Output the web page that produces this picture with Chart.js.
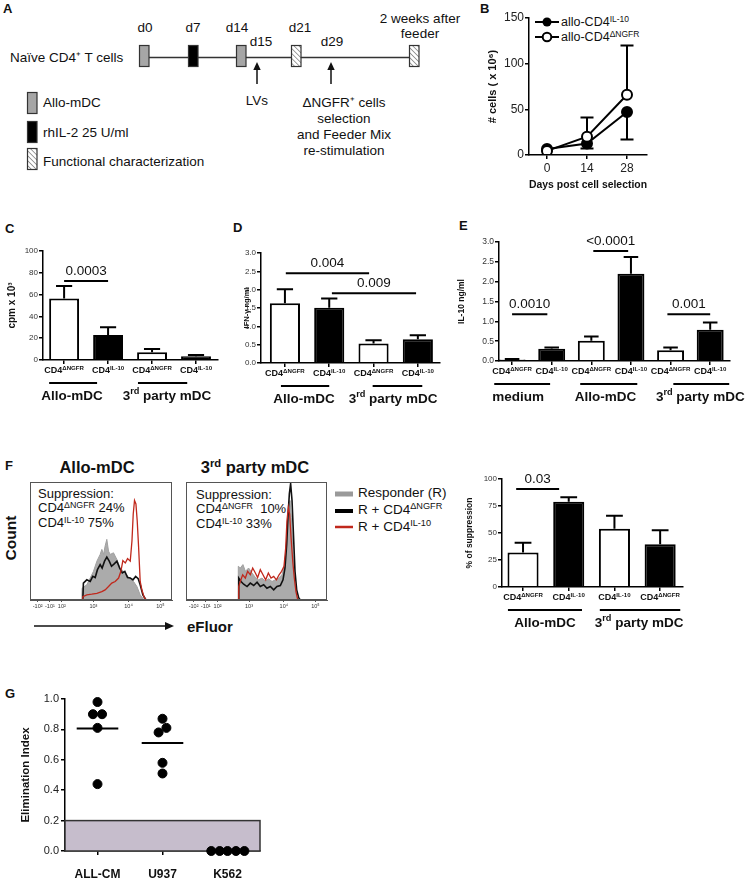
<!DOCTYPE html>
<html lang="en">
  <head>
    <meta charset="UTF-8" />
    <title>CD4 IL-10 figure</title>
    <script src="https://cdn.jsdelivr.net/npm/chart.js"></script>
    <style>
      html, body { margin: 0; padding: 0; background: #fff; }
      #fig { position: relative; width: 749px; height: 881px; overflow: hidden; font-family: "Liberation Sans", Arial, sans-serif; color: #111; }
      #fig canvas, #fig svg, .t { position: absolute; }
      .t { white-space: nowrap; line-height: 1; }
      .c { transform: translate(-50%, -50%); }
      .l { transform: translateY(-50%); }
      .b { font-weight: bold; }
      .letter { font-weight: bold; font-size: 13px; }
      sup { font-size: 0.68em; position: relative; top: -0.5em; vertical-align: baseline; line-height: 0; }
    </style>
  </head>
  <body>
    <div id="fig">
      <!-- Panel A : protocol scheme -->
      <svg width="470" height="180" style="left:0;top:0" font-family="Liberation Sans, Arial, sans-serif" font-size="13.5" fill="#111">
        <defs>
          <pattern id="hatch" width="3.5" height="3.5" patternUnits="userSpaceOnUse" patternTransform="rotate(-45)">
            <rect width="3.5" height="3.5" fill="#fff" />
            <line x1="0" y1="0" x2="0" y2="3.5" stroke="#8a8a8a" stroke-width="1.6" />
          </pattern>
        </defs>
        <line x1="149" y1="57.5" x2="410" y2="57.5" stroke="#333" stroke-width="1.3" />
        <rect x="139.5" y="45.5" width="9.5" height="21" fill="#a6a6a6" stroke="#333" stroke-width="1.2" />
        <rect x="188.5" y="45.5" width="9.5" height="21" fill="#000" stroke="#333" stroke-width="1.2" />
        <rect x="236.5" y="45.5" width="9.5" height="21" fill="#a6a6a6" stroke="#333" stroke-width="1.2" />
        <rect x="291.5" y="45.5" width="9.5" height="21" fill="url(#hatch)" stroke="#333" stroke-width="1.2" />
        <rect x="409.5" y="45.5" width="9.5" height="21" fill="url(#hatch)" stroke="#333" stroke-width="1.2" />
        <text x="10" y="62">Naïve CD4⁺ T cells</text>
        <g text-anchor="middle">
          <text x="145" y="32">d0</text>
          <text x="193" y="32">d7</text>
          <text x="237" y="32">d14</text>
          <text x="261" y="46">d15</text>
          <text x="300" y="32">d21</text>
          <text x="332" y="46">d29</text>
          <text x="420" y="23">2 weeks after</text>
          <text x="420" y="38">feeder</text>
          <text x="257" y="105">LVs</text>
          <text x="344" y="107">ΔNGFR⁺ cells</text>
          <text x="344" y="123">selection</text>
          <text x="344" y="139">and Feeder Mix</text>
          <text x="344" y="155">re-stimulation</text>
        </g>
        <line x1="257" y1="84" x2="257" y2="68" stroke="#111" stroke-width="1.5" />
        <polygon points="257,62 253.3,70 260.7,70" fill="#111" />
        <line x1="331" y1="84" x2="331" y2="68" stroke="#111" stroke-width="1.5" />
        <polygon points="331,62 327.3,70 334.7,70" fill="#111" />
        <rect x="27.5" y="92.5" width="9.5" height="21" fill="#a6a6a6" stroke="#333" stroke-width="1.2" />
        <rect x="27.5" y="121.5" width="9.5" height="21" fill="#000" stroke="#333" stroke-width="1.2" />
        <rect x="27.5" y="148.5" width="9.5" height="21" fill="url(#hatch)" stroke="#333" stroke-width="1.2" />
        <text x="43" y="107">Allo-mDC</text>
        <text x="43" y="137">rhIL-2 25 U/ml</text>
        <text x="43" y="166">Functional characterization</text>
      </svg>

      <!-- panel letters -->
      <div class="t l letter" style="left:3px;top:8px">A</div>
      <div class="t l letter" style="left:480px;top:8px">B</div>
      <div class="t l letter" style="left:5px;top:228px">C</div>
      <div class="t l letter" style="left:233px;top:227px">D</div>
      <div class="t l letter" style="left:459px;top:225px">E</div>
      <div class="t l letter" style="left:5px;top:465px">F</div>
      <div class="t l letter" style="left:5px;top:693px">G</div>

      <!-- B legend -->
      <svg width="24" height="12" style="left:535px;top:16px">
        <line x1="0" y1="6" x2="24" y2="6" stroke="#000" stroke-width="2" />
        <circle cx="12" cy="6" r="4.5" fill="#000" />
      </svg>
      <svg width="24" height="12" style="left:535px;top:31px">
        <line x1="0" y1="6" x2="24" y2="6" stroke="#000" stroke-width="2" />
        <circle cx="12" cy="6" r="4.3" fill="#fff" stroke="#000" stroke-width="2" />
      </svg>
      <div class="t l" style="left:561px;top:22px;font-size:12.5px">allo-CD4<sup>IL-10</sup></div>
      <div class="t l" style="left:561px;top:37px;font-size:12.5px">allo-CD4<sup>ΔNGFR</sup></div>

      <!-- F overlays -->
      <div class="t c b" style="left:97px;top:467px;font-size:16.5px">Allo-mDC</div>
      <div class="t c b" style="left:255px;top:467px;font-size:16.5px">3<sup>rd</sup> party mDC</div>
      <div class="t l" style="left:38px;top:493px;font-size:13px">Suppression:</div>
      <div class="t l" style="left:38px;top:507px;font-size:13px">CD4<sup>ΔNGFR</sup> 24%</div>
      <div class="t l" style="left:38px;top:522px;font-size:13px">CD4<sup>IL-10</sup> 75%</div>
      <div class="t l" style="left:196px;top:494px;font-size:13px">Suppression:</div>
      <div class="t l" style="left:196px;top:508px;font-size:13px">CD4<sup>ΔNGFR</sup>&nbsp; 10%</div>
      <div class="t l" style="left:196px;top:523px;font-size:13px">CD4<sup>IL-10</sup> 33%</div>
      <svg width="20" height="44" style="left:335px;top:489px">
        <line x1="0" y1="5" x2="18" y2="5" stroke="#9a9a9a" stroke-width="5" />
        <line x1="0" y1="22" x2="18" y2="22" stroke="#000" stroke-width="4" />
        <line x1="0" y1="38" x2="18" y2="38" stroke="#c0281c" stroke-width="2.5" />
      </svg>
      <div class="t l" style="left:358px;top:493px;font-size:13.5px">Responder (R)</div>
      <div class="t l" style="left:358px;top:510px;font-size:13.5px">R + CD4<sup>ΔNGFR</sup></div>
      <div class="t l" style="left:358px;top:527px;font-size:13.5px">R + CD4<sup>IL-10</sup></div>
      <div class="t c b" style="left:11px;top:538px;font-size:15.5px;transform:translate(-50%,-50%) rotate(-90deg)">Count</div>
      <svg width="150" height="12" style="left:30px;top:620px">
        <line x1="4" y1="6" x2="136" y2="6" stroke="#111" stroke-width="1.6" />
        <polygon points="144,6 135,2 135,10" fill="#111" />
      </svg>
      <div class="t l b" style="left:187px;top:626px;font-size:15px">eFluor</div>
    </div>

    <script>
      // ---------- data ----------
      // B: expansion
      const days = [0, 14, 28];
      const il10Cells = [6.5, 12.5, 47];
      const il10CellsSD = [0, 5.5, 30];
      const ngfrCells = [4.5, 20, 66];
      const ngfrCellsSD = [0, 21, 54];

      // C, D: proliferation / IFN-g
      const cdLabels = ["CD4<ΔNGFR>", "CD4<IL-10>", "CD4<ΔNGFR>", "CD4<IL-10>"];
      const mdcGroups = ["Allo-mDC", "3<rd> party mDC"];
      const cpmMean = [56.5, 23, 7, 3.5];
      const cpmSD = [11.5, 7, 3, 1];
      const cpmP = ["0.0003"];
      const ifnMean = [1.63, 1.51, 0.53, 0.65];
      const ifnSD = [0.38, 0.25, 0.09, 0.11];
      const ifnP = ["0.004", "0.009"];

      // E: IL-10 production
      const il10Labels = ["CD4<ΔNGFR>", "CD4<IL-10>", "CD4<ΔNGFR>", "CD4<IL-10>", "CD4<ΔNGFR>", "CD4<IL-10>"];
      const il10Groups = ["medium", "Allo-mDC", "3<rd> party mDC"];
      const il10Mean = [0.04, 0.31, 0.51, 2.2, 0.27, 0.79];
      const il10SD = [0.01, 0.03, 0.11, 0.42, 0.07, 0.18];
      const il10P = ["0.0010", "<0.0001", "0.001"];

      // F: suppression
      const suppLabels = ["CD4<ΔNGFR>", "CD4<IL-10>", "CD4<IL-10>", "CD4<ΔNGFR>"];
      const suppMean = [32, 79, 54, 39.5];
      const suppSD = [9, 4, 12, 13];
      const suppP = ["0.03"];

      // F: eFluor histograms, [channel, % of max count]
      const histTickPos = [5.4, 14, 22.4, 44.7, 69.4, 91.8];
      const histTickLabels = ["-10²", "-10¹", "10²", "10³", "10⁴", "10⁵"];
      const alloResp = [[36.5,0],[36.7,10],[40,12.9],[42.4,18.6],[44.7,24.3],[47.1,32.9],[49.4,38.6],[50.6,42.9],[51.8,38.6],[52.9,45.7],[54.1,51.4],[55.3,41.4],[56.5,38.6],[58.8,40],[61.2,34.3],[63.5,27.1],[65.9,24.3],[68.2,21.4],[70.6,17.1],[72.9,15.7],[75.3,11.4],[77.6,4.3],[80,0.6],[81.2,0]];
      const alloNgfr = [[37.2,0],[37.6,14.3],[40,17.1],[42.4,15.7],[44.2,20],[45.9,19],[47.5,25.7],[49.4,30],[50.8,27.1],[52.5,32.9],[54.1,36.3],[55.8,32.9],[57.4,28.6],[59.3,30.6],[61.2,32.9],[63.1,27.1],[65,22.9],[66.8,24.3],[68.7,19.1],[70.6,18.6],[72.5,17.1],[74.4,20],[76.2,18],[77.6,12.9],[79.5,4.3],[81.4,0.6]];
      const alloIl10 = [[36.7,0],[37.2,2.9],[40,4.3],[43.5,4.9],[47.1,5.7],[50.6,7.1],[52.9,8.6],[55.3,11.4],[57.6,14.3],[60,15.7],[62.4,18.6],[64,24.3],[65.4,33.4],[67.1,31.4],[68.7,35.1],[70.6,32.9],[71.8,50],[72.7,72.9],[73.6,84.3],[74.6,81.4],[75.5,67.1],[76.5,44.3],[77.6,15.7],[78.8,8.6],[80.5,2],[81.9,0]];
      const thirdResp = [[36.9,0],[37.1,28.6],[38.5,27.1],[40.4,30],[42.1,24.3],[44.4,27.1],[46.8,22.9],[49.2,19.1],[51.5,17.1],[53.9,18.6],[56.3,15.7],[58.6,18],[61,15.7],[63.4,17.1],[65.7,18.6],[68.1,21.4],[69.7,28.6],[70.9,41.4],[71.9,58.6],[72.8,75.7],[73.8,84.3],[74.7,70],[75.9,38.6],[77.1,15.7],[78.3,4.3],[79.4,0]];
      const thirdNgfr = [[37.1,0],[37.4,18.6],[39,15.7],[40.9,13.4],[43.3,11.4],[45.6,14.3],[48,12.3],[50.4,15.1],[52.7,11.4],[55.1,12.9],[57.4,10],[59.8,11.4],[62.2,8.6],[64.5,11.4],[66.9,12.3],[68.8,17.1],[70.2,27.1],[71.4,47.1],[72.3,70],[73.3,90],[74.2,98.6],[75.2,84.3],[76.1,58.6],[77.3,24.3],[78.5,8.6],[79.9,2],[81.1,0]];
      const thirdIl10 = [[37.1,0],[37.4,11.4],[38.5,15.7],[40.2,21.4],[42.1,18.6],[43.7,24.3],[45.6,21.4],[47.3,27.1],[49.2,22.9],[50.8,19.1],[52.7,25.7],[54.6,21.4],[56.5,17.1],[58.4,22.9],[60.3,18.6],[62.2,20],[64.1,17.1],[66,21.4],[67.8,24.3],[69.5,28.6],[70.7,44.3],[71.6,67.1],[72.6,78.6],[73.5,72.9],[74.5,52.9],[75.7,32.9],[76.8,18.6],[78,7.1],[79.2,0.6]];

      // G: elimination index
      const targets = ["ALL-CM", "U937", "K562"];
      const elimAllCM = [0.98, 0.9, 0.9, 0.81, 0.44];
      const elimU937 = [0.87, 0.78, 0.81, 0.58, 0.51];
      const elimK562 = [0, 0, 0, 0, 0];
      const cutoff = 0.2;
      // horizontal spread of dots inside each column (layout only)
      const dotSpread = [[0, -0.07, 0.07, 0, 0], [0, -0.06, 0.06, 0, 0], [-0.25, -0.12, 0, 0.13, 0.26]];

      // ---------- helpers ----------
      const FONT = '"Liberation Sans", Arial, Helvetica, sans-serif';
      Chart.defaults.font.family = FONT;
      Chart.defaults.color = "#111";
      Chart.defaults.animation = false;
      Chart.defaults.responsive = false;
      Chart.defaults.plugins.legend.display = false;
      Chart.defaults.plugins.tooltip.enabled = false;

      const fig = document.getElementById("fig");
      function mount(b) {
        const c = document.createElement("canvas");
        c.width = b.w;
        c.height = b.h;
        c.style.cssText = `left:${b.l}px;top:${b.t}px;width:${b.w}px;height:${b.h}px`;
        fig.appendChild(c);
        return c;
      }

      // "CD4<IL-10>" -> CD4 + superscript IL-10
      function richText(ctx, str, cx, cy, size, weight) {
        const parts = [];
        str.replace(/<([^>]*)>|([^<]+)/g, (m, sup, txt) => {
          parts.push(sup !== undefined ? [sup, true] : [txt, false]);
        });
        const f = (s) => `${weight} ${s ? size * 0.68 : size}px ${FONT}`;
        const ws = parts.map(([t, s]) => {
          ctx.font = f(s);
          return ctx.measureText(t).width;
        });
        let x = cx - ws.reduce((a, b) => a + b, 0) / 2;
        ctx.textAlign = "left";
        ctx.textBaseline = "middle";
        parts.forEach(([t, s], i) => {
          ctx.font = f(s);
          ctx.fillText(t, x, s ? cy - size * 0.35 : cy);
          x += ws[i];
        });
      }

      const axisGrid = { drawOnChartArea: false, drawTicks: true, tickLength: 4, color: "#000", lineWidth: 1.5, offset: false };
      const axisBorder = { color: "#000", width: 1.5, z: 1 };

      // bar chart with error bars, p-value brackets and grouped labels
      function barPanel(box, area, o) {
        const extras = {
          id: "extras",
          afterDatasetsDraw(chart) {
            const { ctx, chartArea: ca, scales: { x, y } } = chart;
            const bars = chart.getDatasetMeta(0).data;
            ctx.save();
            ctx.strokeStyle = "#000";
            ctx.fillStyle = "#111";
            ctx.lineWidth = 2;
            o.mean.forEach((m, i) => {
              const bx = bars[i].x, half = bars[i].width * 0.27;
              const y0 = y.getPixelForValue(m), y1 = y.getPixelForValue(m + o.sd[i]);
              ctx.beginPath();
              ctx.moveTo(bx, y0);
              ctx.lineTo(bx, y1);
              ctx.moveTo(bx - half, y1);
              ctx.lineTo(bx + half, y1);
              ctx.stroke();
            });
            o.sig.forEach((s) => {
              const yy = y.getPixelForValue(s.level);
              const xa = x.getPixelForValue(s.from), xb = x.getPixelForValue(s.to);
              ctx.beginPath();
              ctx.moveTo(xa, yy);
              ctx.lineTo(xb, yy);
              ctx.stroke();
              ctx.font = `13.5px ${FONT}`;
              ctx.textAlign = "center";
              ctx.textBaseline = "middle";
              ctx.fillText(s.text, (xa + xb) / 2, yy - 10);
            });
            o.labels.forEach((l, i) => richText(ctx, l, x.getPixelForValue(i), ca.bottom + 11, 9, "bold"));
            o.groups.forEach((g) => {
              const yl = ca.bottom + 23;
              ctx.beginPath();
              ctx.moveTo(x.getPixelForValue(g.from), yl);
              ctx.lineTo(x.getPixelForValue(g.to), yl);
              ctx.stroke();
              richText(ctx, g.text, x.getPixelForValue(g.at), ca.bottom + 36, 13.5, "bold");
            });
            ctx.restore();
          },
        };
        return new Chart(mount(box), {
          type: "bar",
          data: {
            datasets: [
              {
                data: o.mean.map((v, i) => ({ x: i, y: v })),
                backgroundColor: o.mean.map((_, i) => (i % 2 ? "#000" : "#fff")),
                borderColor: "#000",
                borderWidth: 2,
                barPercentage: 0.68,
                categoryPercentage: 1,
              },
            ],
          },
          options: {
            layout: { padding: { left: 0, bottom: 0, top: area.t - box.t, right: box.l + box.w - area.r } },
            scales: {
              x: {
                type: "linear",
                min: o.xmin,
                max: o.xmax,
                offset: false,
                afterBuildTicks: (s) => { s.ticks = o.mean.map((_, i) => ({ value: i })); },
                afterFit: (s) => { s.height = box.t + box.h - area.b; },
                ticks: { display: false },
                grid: axisGrid,
                border: axisBorder,
              },
              y: {
                min: 0,
                max: o.ymax,
                afterFit: (s) => { s.width = area.l - box.l; },
                ticks: { stepSize: o.step, padding: 1, color: "#333", font: { size: o.tickSize }, callback: o.fmt },
                grid: axisGrid,
                border: axisBorder,
                title: { display: true, text: o.title, color: "#111", font: { size: o.titleSize, weight: "bold" }, padding: { top: o.titlePad, bottom: 0 } },
              },
            },
          },
          plugins: [extras],
        });
      }

      // ---------- B ----------
      const errB = {
        id: "errB",
        beforeDatasetsDraw(chart) {
          const { ctx, scales: { x, y } } = chart;
          ctx.save();
          ctx.strokeStyle = "#000";
          ctx.lineWidth = 2;
          [[il10Cells, il10CellsSD, -1], [ngfrCells, ngfrCellsSD, 1]].forEach(([m, sd, dir]) => {
            days.forEach((d, i) => {
              if (!sd[i]) return;
              const px = x.getPixelForValue(d);
              const y0 = y.getPixelForValue(m[i]), y1 = y.getPixelForValue(m[i] + dir * sd[i]);
              ctx.beginPath();
              ctx.moveTo(px, y0);
              ctx.lineTo(px, y1);
              ctx.moveTo(px - 6.5, y1);
              ctx.lineTo(px + 6.5, y1);
              ctx.stroke();
            });
          });
          ctx.restore();
        },
      };
      {
        const box = { l: 480, t: 0, w: 269, h: 200 };
        const area = { l: 529, t: 18, r: 647, b: 155 };
        new Chart(mount(box), {
          type: "line",
          data: {
            datasets: [
              { data: days.map((d, i) => ({ x: d, y: il10Cells[i] })), borderColor: "#000", borderWidth: 2, pointRadius: 5, pointBackgroundColor: "#000", pointBorderColor: "#000", order: 2 },
              { data: days.map((d, i) => ({ x: d, y: ngfrCells[i] })), borderColor: "#000", borderWidth: 2, pointRadius: 5, pointBorderWidth: 2, pointBackgroundColor: "#fff", pointBorderColor: "#000", order: 1 },
            ],
          },
          options: {
            layout: { padding: { left: 0, bottom: 0, top: area.t - box.t, right: box.l + box.w - area.r } },
            scales: {
              x: {
                type: "linear",
                min: -6.3,
                max: 35,
                afterBuildTicks: (s) => { s.ticks = days.map((d) => ({ value: d })); },
                afterFit: (s) => { s.height = box.t + box.h - area.b; },
                ticks: { padding: 2, color: "#222", font: { size: 12 } },
                grid: axisGrid,
                border: axisBorder,
                title: { display: true, text: "Days post cell selection", color: "#111", font: { size: 11.5, weight: "bold" }, padding: { top: 0, bottom: 8 } },
              },
              y: {
                min: 0,
                max: 150,
                afterFit: (s) => { s.width = area.l - box.l; },
                ticks: { stepSize: 50, padding: 1, color: "#222", font: { size: 12 } },
                grid: axisGrid,
                border: axisBorder,
                title: { display: true, text: "# cells ( x 10⁶)", color: "#111", font: { size: 11, weight: "bold" }, padding: { top: 6, bottom: 0 } },
              },
            },
          },
          plugins: [errB],
        });
      }

      // ---------- C, D, E, F bars ----------
      const oneDec = (v) => v.toFixed(1);
      barPanel({ l: 0, t: 230, w: 232, h: 180 }, { l: 43, t: 251, r: 218, b: 360 }, {
        mean: cpmMean, sd: cpmSD, labels: cdLabels, xmin: -0.48, xmax: 3.5, ymax: 100, step: 20, tickSize: 8,
        title: "cpm x 10³", titleSize: 10, titlePad: 6,
        sig: [{ from: 0, to: 1, level: 72.5, text: cpmP[0] }],
        groups: [{ from: -0.34, to: 0.75, at: 0.18, text: mdcGroups[0] }, { from: 1.68, to: 2.8, at: 2.34, text: mdcGroups[1] }],
      });
      barPanel({ l: 232, t: 230, w: 218, h: 180 }, { l: 261, t: 253, r: 440, b: 363 }, {
        mean: ifnMean, sd: ifnSD, labels: cdLabels, xmin: -0.54, xmax: 3.5, ymax: 3, step: 0.5, tickSize: 8, fmt: oneDec,
        title: "IFN-γ ng/ml", titleSize: 7.5, titlePad: 10,
        sig: [{ from: 0.02, to: 1.9, level: 2.45, text: ifnP[0] }, { from: 1.06, to: 2.96, level: 1.9, text: ifnP[1] }],
        groups: [{ from: -0.09, to: 1.0, at: 0.43, text: mdcGroups[0] }, { from: 1.98, to: 3.1, at: 2.44, text: mdcGroups[1] }],
      });
      barPanel({ l: 450, t: 225, w: 299, h: 185 }, { l: 499, t: 242, r: 730, b: 361 }, {
        mean: il10Mean, sd: il10SD, labels: il10Labels, xmin: -0.33, xmax: 5.5, ymax: 3, step: 0.5, tickSize: 8.5, fmt: oneDec,
        title: "IL-10 ng/ml", titleSize: 8.5, titlePad: 7,
        sig: [{ from: 0, to: 0.89, level: 1.18, text: il10P[0] }, { from: 2.05, to: 2.93, level: 2.77, text: il10P[1] }, { from: 3.92, to: 5, level: 1.18, text: il10P[2] }],
        groups: [{ from: -0.45, to: 0.96, at: 0.15, text: il10Groups[0] }, { from: 1.72, to: 3.16, at: 2.36, text: il10Groups[1] }, { from: 4.07, to: 5.48, at: 4.75, text: il10Groups[2] }],
      });
      barPanel({ l: 450, t: 460, w: 299, h: 215 }, { l: 502, t: 479, r: 683, b: 587 }, {
        mean: suppMean, sd: suppSD, labels: suppLabels, xmin: -0.46, xmax: 3.5, ymax: 100, step: 25, tickSize: 8,
        title: "% of suppression", titleSize: 8.5, titlePad: 15,
        sig: [{ from: -0.15, to: 0.79, level: 90.7, text: suppP[0] }],
        groups: [{ from: -0.33, to: 1.29, at: 0.48, text: mdcGroups[0] }, { from: 1.68, to: 3.44, at: 2.54, text: mdcGroups[1] }],
      });

      // ---------- F histograms ----------
      const frame = {
        id: "frame",
        afterDraw(chart) {
          const { ctx, chartArea: a } = chart;
          ctx.save();
          ctx.strokeStyle = "#555";
          ctx.lineWidth = 1;
          ctx.strokeRect(a.left + 0.5, a.top + 0.5, a.width - 1, a.height - 1);
          ctx.restore();
        },
      };
      function histPanel(box, area, resp, ngfr, il10) {
        const pts = (arr) => arr.map(([x, y]) => ({ x, y }));
        new Chart(mount(box), {
          type: "line",
          data: {
            datasets: [
              { data: pts(resp), borderColor: "#a0a0a0", backgroundColor: "#ababab", borderWidth: 1, fill: "origin", pointRadius: 0, order: 3 },
              { data: pts(ngfr), borderColor: "#111", borderWidth: 1.6, fill: false, pointRadius: 0, order: 2 },
              { data: pts(il10), borderColor: "#c0281c", borderWidth: 1.3, fill: false, pointRadius: 0, order: 1 },
            ],
          },
          options: {
            layout: { padding: { left: area.l - box.l, bottom: 0, top: area.t - box.t, right: box.l + box.w - area.r } },
            scales: {
              x: {
                type: "linear",
                min: 0,
                max: 100,
                afterBuildTicks: (s) => { s.ticks = histTickPos.map((v) => ({ value: v })); },
                afterFit: (s) => { s.height = box.t + box.h - area.b; },
                ticks: { padding: 1, color: "#333", font: { size: 5.5 }, autoSkip: false, maxRotation: 0, callback: (v) => histTickLabels[histTickPos.indexOf(v)] },
                grid: { drawOnChartArea: false, tickLength: 2, color: "#555", lineWidth: 1 },
                border: { color: "#555", width: 1 },
              },
              y: { display: false, min: 0, max: 100 },
            },
          },
          plugins: [frame],
        });
      }
      histPanel({ l: 28, t: 478, w: 150, h: 140 }, { l: 30, t: 482, r: 172, b: 600 }, alloResp, alloNgfr, alloIl10);
      histPanel({ l: 184, t: 478, w: 150, h: 140 }, { l: 186, t: 482, r: 327, b: 600 }, thirdResp, thirdNgfr, thirdIl10);

      // ---------- G ----------
      const band = {
        id: "band",
        beforeDatasetsDraw(chart) {
          const { ctx, chartArea: a, scales: { y } } = chart;
          const yt = y.getPixelForValue(cutoff), yb = y.getPixelForValue(0);
          ctx.save();
          ctx.fillStyle = "#c6bdcc";
          ctx.fillRect(a.left, yt, a.width, yb - yt);
          ctx.strokeStyle = "#333";
          ctx.lineWidth = 1.5;
          ctx.strokeRect(a.left, yt, a.width, yb - yt);
          ctx.restore();
        },
      };
      {
        const box = { l: 0, t: 680, w: 280, h: 201 };
        const area = { l: 65, t: 699, r: 260, b: 851 };
        const groups = [elimAllCM, elimU937, elimK562];
        const mean = (a) => a.reduce((s, v) => s + v, 0) / a.length;
        const dots = [];
        groups.forEach((g, i) => g.forEach((v, j) => dots.push({ x: i + dotSpread[i][j], y: v })));
        const means = groups.slice(0, 2).map((g, i) => ({
          type: "line",
          data: [{ x: i - 0.32, y: mean(g) }, { x: i + 0.32, y: mean(g) }],
          borderColor: "#000",
          borderWidth: 2,
          pointRadius: 0,
        }));
        new Chart(mount(box), {
          type: "scatter",
          data: {
            datasets: [
              { data: dots, pointRadius: 4.5, backgroundColor: "#000", borderColor: "#000", clip: false },
              ...means,
            ],
          },
          options: {
            layout: { padding: { left: 0, bottom: 0, top: area.t - box.t, right: box.l + box.w - area.r } },
            scales: {
              x: {
                type: "linear",
                min: -0.5,
                max: 2.5,
                afterBuildTicks: (s) => { s.ticks = targets.map((_, i) => ({ value: i })); },
                afterFit: (s) => { s.height = box.t + box.h - area.b; },
                ticks: { padding: 12, color: "#111", font: { size: 12, weight: "bold" }, callback: (v) => targets[v] },
                grid: axisGrid,
                border: { color: "#000", width: 1.5 },
              },
              y: {
                min: 0,
                max: 1,
                afterFit: (s) => { s.width = area.l - box.l; },
                ticks: { stepSize: 0.2, padding: 2, color: "#222", font: { size: 11 }, callback: oneDec },
                grid: axisGrid,
                border: { color: "#000", width: 1.5 },
                title: { display: true, text: "Elimination Index", color: "#111", font: { size: 11.5, weight: "bold" }, padding: { top: 19, bottom: 0 } },
              },
            },
          },
          plugins: [band],
        });
      }
    </script>
  </body>
</html>
